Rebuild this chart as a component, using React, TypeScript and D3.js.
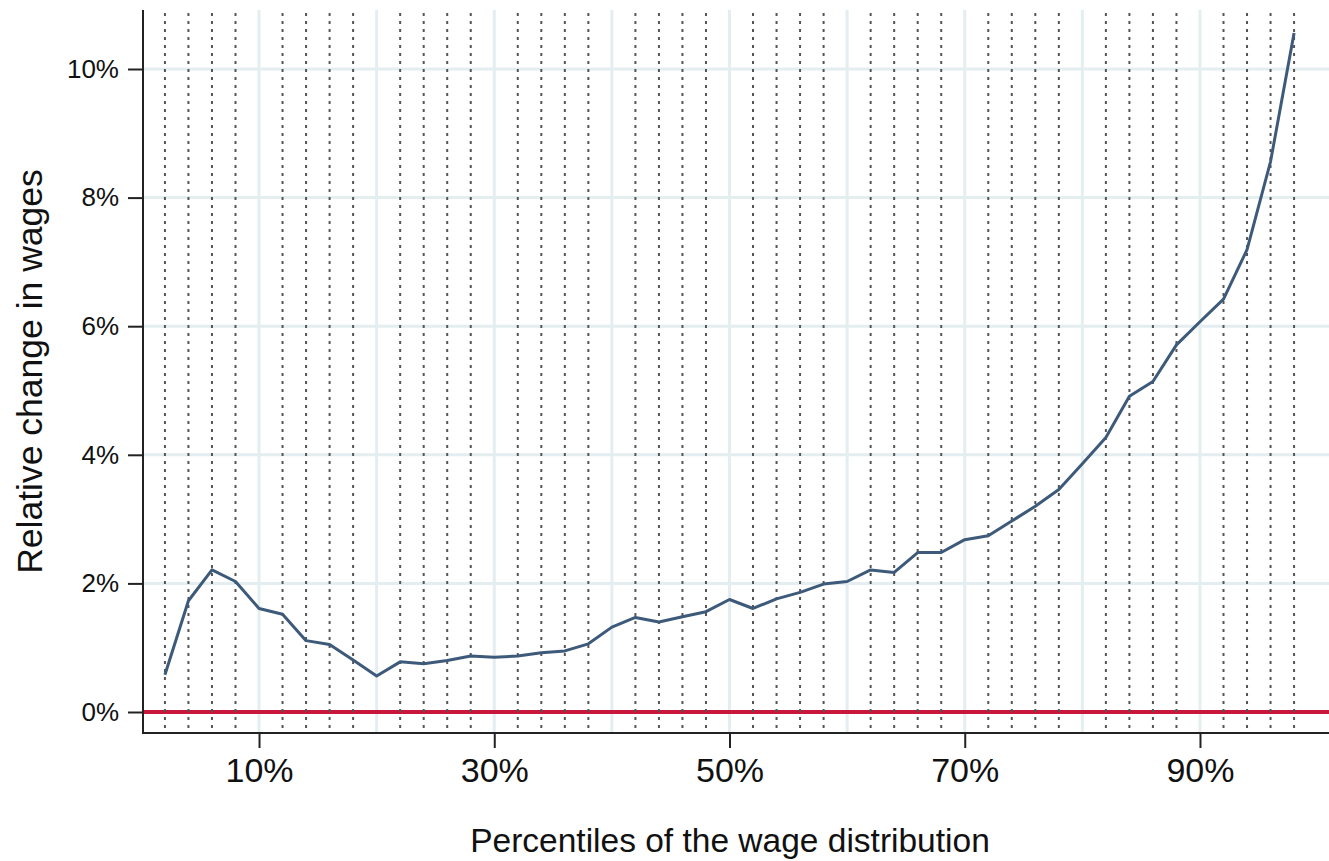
import { useEffect, useRef } from "react";
import * as d3 from "d3";

// percentiles of the wage distribution (x) and relative change in wages, in % (y)
const percentiles = [
  2, 4, 6, 8, 10, 12, 14, 16, 18, 20, 22, 24, 26, 28, 30, 32, 34, 36, 38, 40,
  42, 44, 46, 48, 50, 52, 54, 56, 58, 60, 62, 64, 66, 68, 70, 72, 74, 76, 78,
  80, 82, 84, 86, 88, 90, 92, 94, 96, 98,
];
const wageChange = [
  0.58, 1.73, 2.21, 2.03, 1.61, 1.52, 1.11, 1.05, 0.81, 0.56, 0.78, 0.75, 0.8,
  0.87, 0.85, 0.87, 0.92, 0.95, 1.06, 1.32, 1.47, 1.4, 1.48, 1.56, 1.75, 1.61,
  1.76, 1.86, 1.99, 2.03, 2.21, 2.17, 2.48, 2.48, 2.68, 2.74, 2.97, 3.2, 3.46,
  3.86, 4.27, 4.91, 5.14, 5.71, 6.07, 6.42, 7.19, 8.56, 10.56,
];
const xTicks = [10, 30, 50, 70, 90];
const xGrid = [10, 20, 30, 40, 50, 60, 70, 80, 90];
const yTicks = [0, 2, 4, 6, 8, 10];

const width = 1329;
const height = 861;
const plotLeft = 143;
const plotTop = 10;
const plotBottom = 733;
const plotRight = width;
const font = "'Liberation Sans', Arial, Helvetica, sans-serif";

const App = () => {
  const xAxisRef = useRef<SVGGElement>(null);
  const yAxisRef = useRef<SVGGElement>(null);

  const xScale = d3.scaleLinear().domain([0, 100]).range([141.4, 1317.6]);
  const yScale = d3.scaleLinear().domain([0, 10]).range([712, 69]);

  const data = percentiles.map((p, i) => ({ p, v: wageChange[i] }));

  const line = d3
    .line<{ p: number; v: number }>()
    .x((d) => xScale(d.p))
    .y((d) => yScale(d.v));

  useEffect(() => {
    const xAxis = d3
      .axisBottom(xScale)
      .tickValues(xTicks)
      .tickSize(15)
      .tickPadding(10)
      .tickFormat((d) => `${d}%`);
    const yAxis = d3
      .axisLeft(yScale)
      .tickValues(yTicks)
      .tickSize(15)
      .tickPadding(9)
      .tickFormat((d) => `${d}%`);

    const gx = d3.select(xAxisRef.current!).call(xAxis);
    gx.select(".domain").remove();
    gx.selectAll("line").attr("stroke", "#222").attr("stroke-width", 2);
    gx.selectAll("text")
      .attr("font-size", 34)
      .attr("font-family", font)
      .attr("fill", "#111");

    const gy = d3.select(yAxisRef.current!).call(yAxis);
    gy.select(".domain").remove();
    gy.selectAll("line").attr("stroke", "#222").attr("stroke-width", 2);
    gy.selectAll("text")
      .attr("font-size", 26)
      .attr("font-family", font)
      .attr("fill", "#111");
  }, []);

  return (
    <svg
      width={width}
      height={height}
      viewBox={`0 0 ${width} ${height}`}
      style={{ position: "absolute", left: 0, top: 0, background: "#fff" }}
    >
      {/* grid */}
      <g className="grid">
        {xGrid.map((g) => (
          <line
            key={`vx${g}`}
            x1={xScale(g)}
            x2={xScale(g)}
            y1={plotTop}
            y2={plotBottom}
            stroke="#e4eef0"
            strokeWidth={3}
          />
        ))}
        {yTicks.map((t) => (
          <line
            key={`hy${t}`}
            x1={plotLeft}
            x2={plotRight}
            y1={yScale(t)}
            y2={yScale(t)}
            stroke="#e4eef0"
            strokeWidth={3}
          />
        ))}
      </g>

      {/* zero line */}
      <line
        x1={plotLeft}
        x2={plotRight}
        y1={yScale(0)}
        y2={yScale(0)}
        stroke="#c8163c"
        strokeWidth={4}
      />

      {/* dotted lines at every data percentile */}
      <g className="dots">
        {percentiles
          .filter((p) => p % 10 !== 0)
          .map((p) => (
            <line
              key={`d${p}`}
              x1={xScale(p)}
              x2={xScale(p)}
              y1={13}
              y2={728}
              stroke="#555"
              strokeWidth={2}
              strokeDasharray="3 5"
            />
          ))}
      </g>

      {/* series */}
      <path
        d={line(data) ?? ""}
        fill="none"
        stroke="#3e5a7a"
        strokeWidth={3}
        strokeLinejoin="round"
      />

      {/* frame */}
      <line
        x1={plotLeft}
        x2={plotLeft}
        y1={plotTop}
        y2={plotBottom + 1}
        stroke="#222"
        strokeWidth={2}
      />
      <line
        x1={plotLeft - 1}
        x2={plotRight}
        y1={plotBottom}
        y2={plotBottom}
        stroke="#222"
        strokeWidth={2}
      />

      <g ref={xAxisRef} transform={`translate(0,${plotBottom})`} />
      <g ref={yAxisRef} transform={`translate(${plotLeft},0)`} />

      <text
        x={730}
        y={852}
        textAnchor="middle"
        fontSize={33.5}
        fontFamily={font}
        fill="#111"
      >
        Percentiles of the wage distribution
      </text>
      <text
        transform={`translate(42,${(plotTop + plotBottom) / 2}) rotate(-90)`}
        textAnchor="middle"
        fontSize={35.5}
        fontFamily={font}
        fill="#111"
      >
        Relative change in wages
      </text>
    </svg>
  );
};

export default App;
